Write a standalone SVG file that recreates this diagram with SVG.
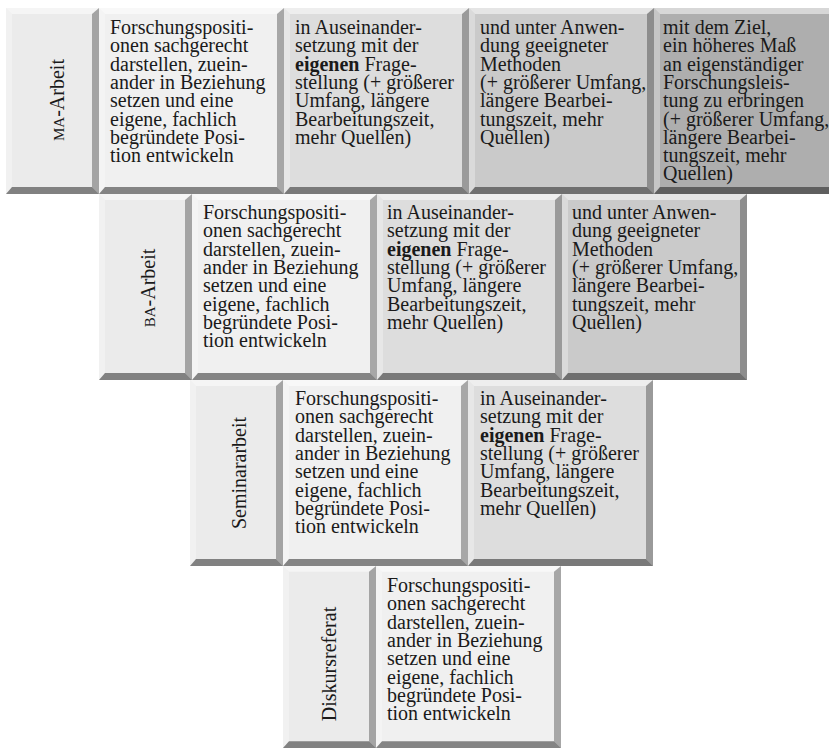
<svg xmlns="http://www.w3.org/2000/svg" xmlns:xlink="http://www.w3.org/1999/xlink" width="829" height="750" viewBox="0 0 829 750">
<style>
.f-lbl{fill:#ebebeb}
.f-1{fill:#f0f0f0}
.f-2{fill:#dddddd}
.f-3{fill:#cacaca}
.f-4{fill:#aeaeae}
.bt{fill:#ffffff;fill-opacity:.5}
.bl{fill:#ffffff;fill-opacity:.3}
.br{fill:#000000;fill-opacity:.3}
.bb{fill:#000000;fill-opacity:.45}
.tx{font-family:"Liberation Serif","DejaVu Serif",serif;font-size:20px;fill:#1a1a1a}
.lb{font-family:"Liberation Serif","DejaVu Serif",serif;font-size:20px;fill:#1a1a1a;text-anchor:middle}
.sc{font-size:15px}
.b{font-weight:bold}
</style>
<defs>
<g id="bev-c">
<polygon class="bt" points="0,0 185,0 178,6 6,6"/>
<polygon class="bl" points="0,0 6,6 6,179 0,186"/>
<polygon class="br" points="185,0 185,186 178,179 178,6"/>
<polygon class="bb" points="0,186 185,186 178,179 6,179"/>
</g>
<g id="bev-l">
<polygon class="bt" points="0,0 93,0 86,6 6,6"/>
<polygon class="bl" points="0,0 6,6 6,179 0,186"/>
<polygon class="br" points="93,0 93,186 86,179 86,6"/>
<polygon class="bb" points="0,186 93,186 86,179 6,179"/>
</g>
</defs>
<rect width="829" height="750" fill="#ffffff"/>

<!-- Row 1: MA-Arbeit -->
<g id="ma-label" transform="translate(6,8)">
<rect class="f-lbl" width="93" height="186"/><use xlink:href="#bev-l" href="#bev-l"/>
<text class="lb" transform="translate(58,92) rotate(-90)"><tspan class="sc">MA</tspan>-Arbeit</text>
</g>
<g id="ma-1" transform="translate(99,8)">
<rect class="f-1" width="185" height="186"/><use xlink:href="#bev-c" href="#bev-c"/>
<text class="tx" x="11" y="26"><tspan x="11">Forschungspositi-</tspan><tspan x="11" dy="18.3">onen sachgerecht</tspan><tspan x="11" dy="18.3">darstellen, zuein-</tspan><tspan x="11" dy="18.3">ander in Beziehung</tspan><tspan x="11" dy="18.3">setzen und eine</tspan><tspan x="11" dy="18.3">eigene, fachlich</tspan><tspan x="11" dy="18.3">begründete Posi-</tspan><tspan x="11" dy="18.3">tion entwickeln</tspan></text>
</g>
<g id="ma-2" transform="translate(284,8)">
<rect class="f-2" width="185" height="186"/><use xlink:href="#bev-c" href="#bev-c"/>
<text class="tx" x="11" y="26"><tspan x="11">in Auseinander-</tspan><tspan x="11" dy="18.3">setzung mit der</tspan><tspan x="11" dy="18.3"><tspan class="b">eigenen</tspan> Frage-</tspan><tspan x="11" dy="18.3">stellung (+ größerer</tspan><tspan x="11" dy="18.3">Umfang, längere</tspan><tspan x="11" dy="18.3">Bearbeitungszeit,</tspan><tspan x="11" dy="18.3">mehr Quellen)</tspan></text>
</g>
<g id="ma-3" transform="translate(469,8)">
<rect class="f-3" width="185" height="186"/><use xlink:href="#bev-c" href="#bev-c"/>
<text class="tx" x="11" y="26"><tspan x="11">und unter Anwen-</tspan><tspan x="11" dy="18.3">dung geeigneter</tspan><tspan x="11" dy="18.3">Methoden</tspan><tspan x="11" dy="18.3">(+ größerer Umfang,</tspan><tspan x="11" dy="18.3">längere Bearbei-</tspan><tspan x="11" dy="18.3">tungszeit, mehr</tspan><tspan x="11" dy="18.3">Quellen)</tspan></text>
</g>
<g id="ma-4" transform="translate(654,8)">
<rect class="f-4" width="185" height="186"/><use xlink:href="#bev-c" href="#bev-c"/>
<text class="tx" x="9" y="26"><tspan x="9">mit dem Ziel,</tspan><tspan x="9" dy="18.3">ein höheres Maß</tspan><tspan x="9" dy="18.3">an eigenständiger</tspan><tspan x="9" dy="18.3">Forschungsleis-</tspan><tspan x="9" dy="18.3">tung zu erbringen</tspan><tspan x="9" dy="18.3">(+ größerer Umfang,</tspan><tspan x="9" dy="18.3">längere Bearbei-</tspan><tspan x="9" dy="18.3">tungszeit, mehr</tspan><tspan x="9" dy="18.3">Quellen)</tspan></text>
</g>

<!-- Row 2: BA-Arbeit -->
<g id="ba-label" transform="translate(99,194)">
<rect class="f-lbl" width="93" height="186"/><use xlink:href="#bev-l" href="#bev-l"/>
<text class="lb" transform="translate(56,94) rotate(-90)"><tspan class="sc">BA</tspan>-Arbeit</text>
</g>
<g id="ba-1" transform="translate(192,194)">
<rect class="f-1" width="185" height="186"/><use xlink:href="#bev-c" href="#bev-c"/>
<text class="tx" x="11" y="25"><tspan x="11">Forschungspositi-</tspan><tspan x="11" dy="18.3">onen sachgerecht</tspan><tspan x="11" dy="18.3">darstellen, zuein-</tspan><tspan x="11" dy="18.3">ander in Beziehung</tspan><tspan x="11" dy="18.3">setzen und eine</tspan><tspan x="11" dy="18.3">eigene, fachlich</tspan><tspan x="11" dy="18.3">begründete Posi-</tspan><tspan x="11" dy="18.3">tion entwickeln</tspan></text>
</g>
<g id="ba-2" transform="translate(377,194)">
<rect class="f-2" width="185" height="186"/><use xlink:href="#bev-c" href="#bev-c"/>
<text class="tx" x="10" y="25"><tspan x="10">in Auseinander-</tspan><tspan x="10" dy="18.3">setzung mit der</tspan><tspan x="10" dy="18.3"><tspan class="b">eigenen</tspan> Frage-</tspan><tspan x="10" dy="18.3">stellung (+ größerer</tspan><tspan x="10" dy="18.3">Umfang, längere</tspan><tspan x="10" dy="18.3">Bearbeitungszeit,</tspan><tspan x="10" dy="18.3">mehr Quellen)</tspan></text>
</g>
<g id="ba-3" transform="translate(562,194)">
<rect class="f-3" width="185" height="186"/><use xlink:href="#bev-c" href="#bev-c"/>
<text class="tx" x="10" y="25"><tspan x="10">und unter Anwen-</tspan><tspan x="10" dy="18.3">dung geeigneter</tspan><tspan x="10" dy="18.3">Methoden</tspan><tspan x="10" dy="18.3">(+ größerer Umfang,</tspan><tspan x="10" dy="18.3">längere Bearbei-</tspan><tspan x="10" dy="18.3">tungszeit, mehr</tspan><tspan x="10" dy="18.3">Quellen)</tspan></text>
</g>

<!-- Row 3: Seminararbeit -->
<g id="seminar-label" transform="translate(190,380)">
<rect class="f-lbl" width="93" height="186"/><use xlink:href="#bev-l" href="#bev-l"/>
<text class="lb" transform="translate(56,93) rotate(-90)">Seminararbeit</text>
</g>
<g id="seminar-1" transform="translate(283,380)">
<rect class="f-1" width="185" height="186"/><use xlink:href="#bev-c" href="#bev-c"/>
<text class="tx" x="12" y="25"><tspan x="12">Forschungspositi-</tspan><tspan x="12" dy="18.3">onen sachgerecht</tspan><tspan x="12" dy="18.3">darstellen, zuein-</tspan><tspan x="12" dy="18.3">ander in Beziehung</tspan><tspan x="12" dy="18.3">setzen und eine</tspan><tspan x="12" dy="18.3">eigene, fachlich</tspan><tspan x="12" dy="18.3">begründete Posi-</tspan><tspan x="12" dy="18.3">tion entwickeln</tspan></text>
</g>
<g id="seminar-2" transform="translate(468,380)">
<rect class="f-2" width="185" height="186"/><use xlink:href="#bev-c" href="#bev-c"/>
<text class="tx" x="12" y="25"><tspan x="12">in Auseinander-</tspan><tspan x="12" dy="18.3">setzung mit der</tspan><tspan x="12" dy="18.3"><tspan class="b">eigenen</tspan> Frage-</tspan><tspan x="12" dy="18.3">stellung (+ größerer</tspan><tspan x="12" dy="18.3">Umfang, längere</tspan><tspan x="12" dy="18.3">Bearbeitungszeit,</tspan><tspan x="12" dy="18.3">mehr Quellen)</tspan></text>
</g>

<!-- Row 4: Diskursreferat -->
<g id="diskurs-label" transform="translate(283,566)">
<rect class="f-lbl" width="93" height="182"/><use xlink:href="#bev-l" href="#bev-l" transform="scale(1,0.9785)"/>
<text class="lb" transform="translate(53,98) rotate(-90)">Diskursreferat</text>
</g>
<g id="diskurs-1" transform="translate(376,566)">
<rect class="f-1" width="185" height="182"/><use xlink:href="#bev-c" href="#bev-c" transform="scale(1,0.9785)"/>
<text class="tx" x="11" y="26"><tspan x="11">Forschungspositi-</tspan><tspan x="11" dy="18.3">onen sachgerecht</tspan><tspan x="11" dy="18.3">darstellen, zuein-</tspan><tspan x="11" dy="18.3">ander in Beziehung</tspan><tspan x="11" dy="18.3">setzen und eine</tspan><tspan x="11" dy="18.3">eigene, fachlich</tspan><tspan x="11" dy="18.3">begründete Posi-</tspan><tspan x="11" dy="18.3">tion entwickeln</tspan></text>
</g>
</svg>
